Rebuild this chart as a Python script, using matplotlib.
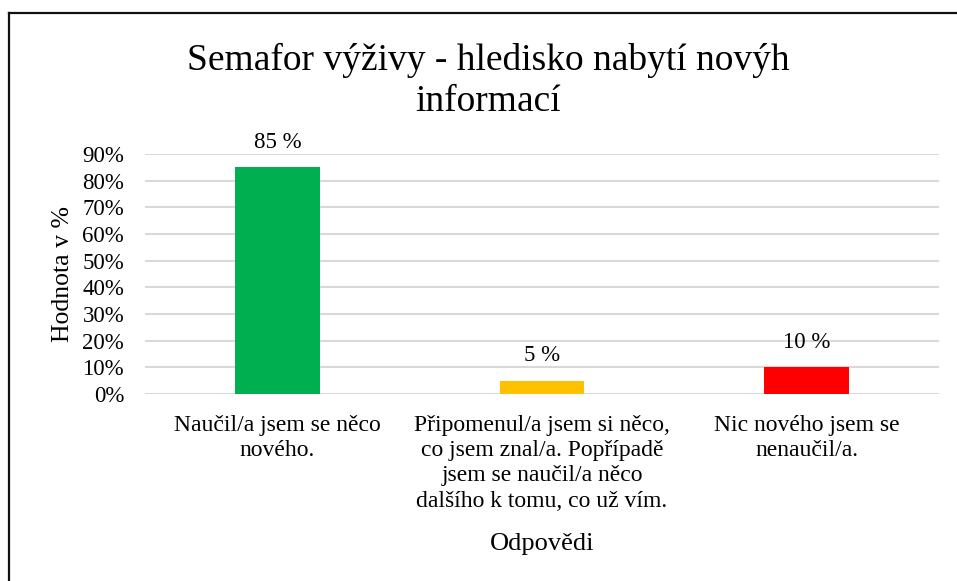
import matplotlib.pyplot as plt
from matplotlib.lines import Line2D
from matplotlib.ticker import PercentFormatter

# Data
categories = [
    'Naučil/a jsem se něco\nnového.',
    'Připomenul/a jsem si něco,\nco jsem znal/a. Popřípadě\njsem se naučil/a něco\ndalšího k tomu, co už vím.',
    'Nic nového jsem se\nnenaučil/a.',
]
values = [0.85, 0.05, 0.10]
labels = ['85 %', '5 %', '10 %']
colors = ['#00B050', '#FFC000', '#FF0000']

plt.rcParams['font.family'] = ['Liberation Serif', 'DejaVu Serif']

fig = plt.figure(figsize=(9.57, 5.81), dpi=100)
ax = fig.add_axes([145 / 957, 1 - 394 / 581, (939 - 145) / 957, (394 - 154) / 581])

x = range(len(categories))
ax.bar(x, values, width=0.32, color=colors, zorder=3)
for xi, v, lab in zip(x, values, labels):
    ax.annotate(lab, (xi, v), xytext=(0, 14), textcoords='offset points',
                ha='center', va='baseline', fontsize=16.5)

ax.set_xlim(-0.5, 2.5)
ax.set_ylim(0, 0.9)
ax.set_yticks([i / 10 for i in range(10)])
ax.yaxis.set_major_formatter(PercentFormatter(1.0, decimals=0))
ax.grid(axis='y', color='#D9D9D9', linewidth=1.5, zorder=0)
for s in ax.spines.values():
    s.set_visible(False)
ax.tick_params(length=0, labelsize=16.5)
ax.tick_params(axis='y', pad=15)
ax.tick_params(axis='x', pad=15)
ax.set_xticks(list(x))
ax.set_xticklabels(categories, fontsize=17, linespacing=1.27)
ax.set_xlabel('Odpovědi', fontsize=19, labelpad=15)
ax.set_ylabel('Hodnota v %', fontsize=18.5, labelpad=6)

fig.text(488 / 957, 1 - 81 / 581, 'Semafor výživy - hledisko nabytí novýh\ninformací',
         ha='center', va='center', fontsize=27, linespacing=1.22)

# outer frame (top and left edges)
fig.add_artist(Line2D([9 / 957, 9 / 957], [0, 1 - 13 / 581], color='#111111', linewidth=1.6))
fig.add_artist(Line2D([9 / 957, 1], [1 - 13 / 581, 1 - 13 / 581], color='#111111', linewidth=1.6))

fig.savefig('out.png', dpi=100)
